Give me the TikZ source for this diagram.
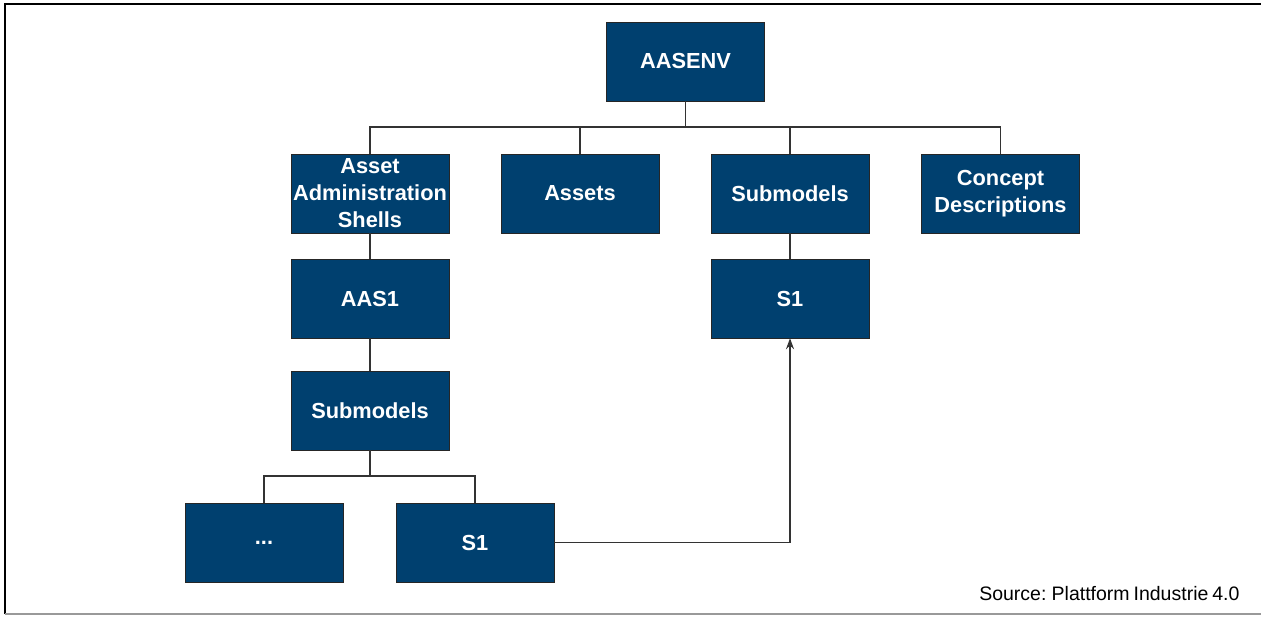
\documentclass[tikz,border=0pt]{standalone}
\usepackage{fontspec}
\setmainfont{Liberation Sans}
\usetikzlibrary{arrows.meta,positioning}
\definecolor{aasblue}{HTML}{00406F}
\definecolor{linegray}{HTML}{333333}
\tikzset{
  aasbox/.style={draw=black!85, fill=aasblue, text=white, align=center,
    minimum width=158pt, minimum height=79pt, inner sep=0pt,
    font=\bfseries\fontsize{21.8}{27}\selectfont},
  link/.style={draw=linegray, line width=1.5pt},
  refarr/.style={link, -{Stealth[length=11pt, width=8pt]}}
}
\begin{document}
\begin{tikzpicture}[x=1pt,y=-1pt]
  \useasboundingbox (0,0) rectangle (1261,617);
  % frame
  \draw[line width=2.5pt] (5,614) -- (5,4) -- (1261,4);
  \draw[black!40, line width=2pt] (5,614) -- (1261,614);
  % top level
  \node[aasbox] (env) at (685.5,61.5) {AASENV};
  \node[aasbox] (aas) at (370,193.5) {Asset\\Administration\\Shells};
  \node[aasbox] (assets) at (580,193.5) {Assets};
  \node[aasbox] (sub) at (790,193.5) {Submodels};
  \node[aasbox] (cd) at (1000.5,193.5) {Concept\\Descriptions};
  % submodel column
  \node[aasbox] (s1) at (790,298.5) {S1};
  % shell column
  \node[aasbox] (aas1) at (370,298.5) {AAS1};
  \node[aasbox] (aassub) at (370,410.5) {Submodels};
  \node[aasbox] (dots) at (264,542.5) {...};
  \node[aasbox] (s1ref) at (475,542.5) {S1};
  % connectors
  \draw[link] (env.south) -- ++(0,26) coordinate (bustop);
  \foreach \n in {aas,assets,sub,cd}
    \draw[link] (bustop) -| (\n.north);
  \draw[link] (sub) -- (s1);
  \draw[link] (aas) -- (aas1);
  \draw[link] (aas1) -- (aassub);
  \draw[link] (aassub.south) -- ++(0,26) coordinate (buslow);
  \foreach \n in {dots,s1ref}
    \draw[link] (buslow) -| (\n.north);
  \draw[refarr] (s1ref.east) -| (s1.south);
  \node[anchor=base east, font=\fontsize{19.5}{22}\selectfont] (src) at (1243,600)
    {Source:\hspace{-2pt} Plattform\hspace{-1.5pt} Industrie\hspace{-1.5pt} 4.0};
\end{tikzpicture}
\end{document}
